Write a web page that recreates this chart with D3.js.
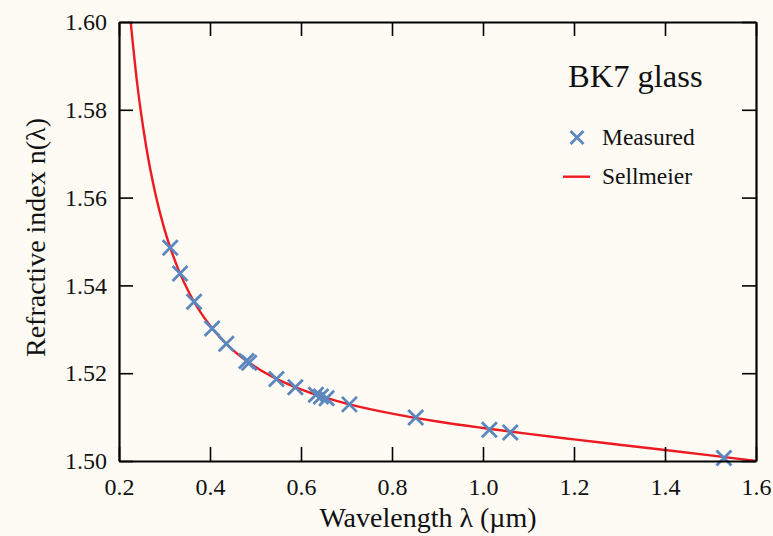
<!DOCTYPE html>
<html>
<head>
<meta charset="utf-8">
<script src="https://cdn.jsdelivr.net/npm/d3@7"></script>
<style>
  html, body { margin: 0; padding: 0; background: #fdfbf3; }
  svg { display: block; }
  text { font-family: "Liberation Serif", "Times New Roman", serif; fill: #111; }
</style>
</head>
<body>
<svg id="chart" width="773" height="536"></svg>
<script>
// Measured refractive index of BK7 at standard spectral lines (wavelength in µm)
const measuredWavelength = [0.3126, 0.3341, 0.3650, 0.4047, 0.4358, 0.4800, 0.4861, 0.5461,
                            0.5876, 0.6328, 0.6438, 0.6563, 0.7065, 0.8521, 1.0140, 1.0600, 1.5296];
const measuredIndex      = [1.5486, 1.5427, 1.5363, 1.5302, 1.5267, 1.5228, 1.5224, 1.5187,
                            1.5168, 1.5151, 1.5147, 1.5143, 1.5129, 1.5099, 1.5071, 1.5065, 1.5007];

// Sellmeier dispersion curve, sampled
const sellmeierWavelength = [0.225, 0.24, 0.26, 0.28, 0.30, 0.33, 0.36, 0.40, 0.45, 0.50, 0.55,
                             0.60, 0.70, 0.80, 0.90, 1.00, 1.10, 1.20, 1.30, 1.40, 1.50, 1.60];
const sellmeierIndex      = [1.60072, 1.58594, 1.57147, 1.56086, 1.55277, 1.54376, 1.53719, 1.53085,
                             1.52532, 1.52142, 1.51853, 1.51630, 1.51306, 1.51078, 1.50899, 1.50751,
                             1.50617, 1.50492, 1.50371, 1.50250, 1.50127, 1.50002];

// Axis ticks
const xTicks = [0.2, 0.4, 0.6, 0.8, 1.0, 1.2, 1.4, 1.6];
const yTicks = [1.50, 1.52, 1.54, 1.56, 1.58, 1.60];

const svg = d3.select("#chart");
const margin = { left: 119, right: 17, top: 22, bottom: 75 };
const W = 773, H = 536;
const x0 = margin.left, x1 = W - margin.right, y0 = H - margin.bottom, y1 = margin.top;

const x = d3.scaleLinear().domain([0.2, 1.6]).range([x0, x1]);
const y = d3.scaleLinear().domain([1.50, 1.60]).range([y0, y1]);

svg.append("defs").append("clipPath").attr("id", "plotClip")
  .append("rect").attr("x", x0).attr("y", y1).attr("width", x1 - x0).attr("height", y0 - y1);

const blue = "#5b87bf", red = "#ee1a22";

// Sellmeier curve
const pts = sellmeierWavelength.map((w, i) => [w, sellmeierIndex[i]]);
svg.append("path")
  .datum(pts)
  .attr("clip-path", "url(#plotClip)")
  .attr("fill", "none")
  .attr("stroke", red)
  .attr("stroke-width", 2.4)
  .attr("d", d3.line().x(d => x(d[0])).y(d => y(d[1])).curve(d3.curveMonotoneX));

// Measured points as crosses
const s = 7.5;
const cross = `M${-s},${-s}L${s},${s}M${-s},${s}L${s},${-s}`;
svg.append("g").selectAll("path")
  .data(measuredWavelength.map((w, i) => [w, measuredIndex[i]]))
  .join("path")
  .attr("transform", d => `translate(${x(d[0])},${y(d[1])})`)
  .attr("d", cross)
  .attr("fill", "none")
  .attr("stroke", blue)
  .attr("stroke-width", 2.8);

// Axes with inward ticks on all four sides
const tickLen = 14;
function styleAxis(g) {
  g.selectAll(".domain").attr("stroke", "#000").attr("stroke-width", 2.2);
  g.selectAll(".tick line").attr("stroke", "#000").attr("stroke-width", 1.6);
  g.selectAll("text").style("font-size", "24px").style("fill", "#111");
}
svg.append("g").attr("transform", `translate(0,${y0})`)
  .call(d3.axisBottom(x).tickValues(xTicks).tickFormat(d3.format(".1f"))
    .tickSizeInner(-tickLen).tickSizeOuter(0).tickPadding(17))
  .call(styleAxis);
svg.append("g").attr("transform", `translate(0,${y1})`)
  .call(d3.axisTop(x).tickValues(xTicks).tickFormat("")
    .tickSizeInner(-tickLen).tickSizeOuter(0))
  .call(styleAxis);
svg.append("g").attr("transform", `translate(${x0},0)`)
  .call(d3.axisLeft(y).tickValues(yTicks).tickFormat(d3.format(".2f"))
    .tickSizeInner(-tickLen).tickSizeOuter(0).tickPadding(12))
  .call(styleAxis);
svg.append("g").attr("transform", `translate(${x1},0)`)
  .call(d3.axisRight(y).tickValues(yTicks).tickFormat("")
    .tickSizeInner(-tickLen).tickSizeOuter(0))
  .call(styleAxis);

// Axis titles
svg.append("text")
  .attr("x", 428).attr("y", 527)
  .attr("text-anchor", "middle")
  .style("font-size", "28px")
  .text("Wavelength λ (µm)");
svg.append("text")
  .attr("transform", `translate(45,${(y0 + y1) / 2 - 4}) rotate(-90)`)
  .attr("text-anchor", "middle")
  .style("font-size", "28px")
  .text("Refractive index n(λ)");

// Title and legend
svg.append("text")
  .attr("x", 568).attr("y", 87)
  .style("font-size", "32.5px")
  .text("BK7 glass");
svg.append("path")
  .attr("transform", `translate(577,137.5)`)
  .attr("d", `M-6.5,-6.5L6.5,6.5M-6.5,6.5L6.5,-6.5`)
  .attr("fill", "none").attr("stroke", blue).attr("stroke-width", 2.8);
svg.append("text").attr("x", 602).attr("y", 145).style("font-size", "23.5px").text("Measured");
svg.append("line")
  .attr("x1", 563).attr("x2", 590).attr("y1", 176.7).attr("y2", 176.7)
  .attr("stroke", red).attr("stroke-width", 2.4);
svg.append("text").attr("x", 602).attr("y", 184).style("font-size", "23.5px").text("Sellmeier");
</script>
</body>
</html>
